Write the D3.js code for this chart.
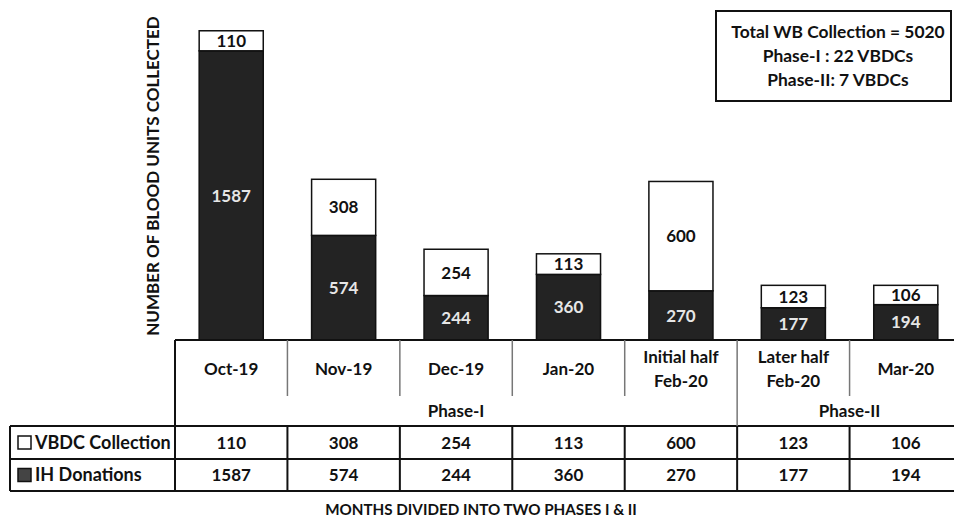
<!DOCTYPE html>
<html>
<head>
<meta charset="utf-8">
<script src="https://cdn.jsdelivr.net/npm/d3@7"></script>
<style>
  html, body { margin: 0; padding: 0; background: #fff; }
  svg { display: block; font-family: Lato, "Open Sans", sans-serif; font-weight: bold; }
</style>
</head>
<body>
<svg id="chart" width="954" height="524"></svg>
<script>
// data
const months = [["Oct-19"], ["Nov-19"], ["Dec-19"], ["Jan-20"],
  ["Initial half", "Feb-20"], ["Later half", "Feb-20"], ["Mar-20"]];
const vbdc = [110, 308, 254, 113, 600, 123, 106];
const ih = [1587, 574, 244, 360, 270, 177, 194];
const phaseNames = ["Phase-I", "Phase-II"];
const phaseOfMonth = [0, 0, 0, 0, 0, 1, 1];
const seriesNames = ["VBDC Collection", "IH Donations"];
const infoLines = ["Total WB Collection = 5020", "Phase-I : 22 VBDCs", "Phase-II: 7 VBDCs"];
const yTitle = "NUMBER OF BLOOD UNITS COLLECTED";
const xTitle = "MONTHS DIVIDED INTO TWO PHASES I & II";

const dark = "#232323";
const svg = d3.select("#chart");

const keys = months.map((m, i) => i);
const rows = keys.map(i => ({ i, ih: ih[i], vbdc: vbdc[i] }));

// columns of the table and the bars that sit on them
const tableLeft = 175, tableRight = 962, labelLeft = 10;
const cell = d3.scaleBand().domain(keys).range([tableLeft, tableRight]);
const bar = d3.scaleBand().domain(keys).range([tableLeft, tableRight])
  .paddingInner(0.43).paddingOuter(0.215);

const base = 340;
const y = d3.scaleLinear().domain([0, 1800]).range([base, 12]);

const stack = d3.stack().keys(["ih", "vbdc"]);
const layers = stack(rows);

const gBars = svg.append("g");
layers.forEach(layer => {
  const isIh = layer.key === "ih";
  const g = gBars.append("g");
  g.selectAll("rect")
    .data(layer)
    .join("rect")
    .attr("x", d => bar(d.data.i))
    .attr("width", bar.bandwidth())
    .attr("y", d => y(d[1]))
    .attr("height", d => y(d[0]) - y(d[1]))
    .attr("fill", isIh ? dark : "#fff")
    .attr("stroke", "#111")
    .attr("stroke-width", 1.5);
  g.selectAll("text")
    .data(layer)
    .join("text")
    .attr("x", d => bar(d.data.i) + bar.bandwidth() / 2)
    .attr("y", d => (y(d[0]) + y(d[1])) / 2)
    .attr("dy", "0.36em")
    .attr("text-anchor", "middle")
    .attr("font-size", 17)
    .attr("fill", isIh ? "#e6e6e6" : "#111")
    .text(d => d.data[layer.key]);
});

// y axis title
svg.append("text")
  .attr("transform", `translate(159,${(base + 12) / 2}) rotate(-90)`)
  .attr("text-anchor", "middle")
  .attr("font-size", 17)
  .attr("fill", "#111")
  .text(yTitle);

// info box
const box = svg.append("g");
box.append("rect")
  .attr("x", 716).attr("y", 11).attr("width", 235).attr("height", 90)
  .attr("fill", "#fff").attr("stroke", "#111").attr("stroke-width", 2);
box.selectAll("text")
  .data(infoLines)
  .join("text")
  .attr("x", 838)
  .attr("y", (d, i) => 32 + i * 24)
  .attr("dy", "0.36em")
  .attr("text-anchor", "middle")
  .attr("font-size", 17.4)
  .attr("fill", "#111")
  .text(d => d);

// data table
const hdrBottom = 396, phaseBottom = 426, row1Bottom = 459, row2Bottom = 491;
const tbl = svg.append("g").attr("fill", "none");
const line = (x1, y1, x2, y2, color, w) => tbl.append("line")
  .attr("x1", x1).attr("y1", y1).attr("x2", x2).attr("y2", y2)
  .attr("stroke", color).attr("stroke-width", w);

line(tableLeft, base, tableRight, base, "#111", 2);
line(tableLeft, base, tableLeft, row2Bottom, "#111", 2);
line(labelLeft, phaseBottom, tableRight, phaseBottom, "#111", 2);
line(labelLeft, row1Bottom, tableRight, row1Bottom, "#111", 2);
line(labelLeft, row2Bottom, tableRight, row2Bottom, "#111", 2);
line(labelLeft, phaseBottom, labelLeft, row2Bottom, "#111", 2);

keys.slice(1).forEach(i => {
  const x = cell(i);
  const phaseEdge = phaseOfMonth[i] !== phaseOfMonth[i - 1];
  line(x, base, x, phaseEdge ? phaseBottom : hdrBottom, "#777", 1.5);
  line(x, phaseBottom, x, row2Bottom, "#111", 2);
});

// month labels
const mt = svg.append("g").attr("text-anchor", "middle").attr("font-size", 17).attr("fill", "#111");
months.forEach((lines, i) => {
  const cx = cell(i) + cell.bandwidth() / 2;
  const mid = 369;
  lines.forEach((ln, k) => {
    mt.append("text")
      .attr("x", cx)
      .attr("y", mid + (k - (lines.length - 1) / 2) * 24)
      .attr("dy", "0.36em")
      .text(ln);
  });
});

// phase labels
phaseNames.forEach((name, p) => {
  const idx = keys.filter(i => phaseOfMonth[i] === p);
  const x0 = cell(idx[0]);
  const x1 = cell(idx[idx.length - 1]) + cell.bandwidth();
  mt.append("text")
    .attr("x", (x0 + x1) / 2)
    .attr("y", 411)
    .attr("dy", "0.36em")
    .text(name);
});

// value rows
const tableSeries = [vbdc, ih];
const rowMid = [(phaseBottom + row1Bottom) / 2, (row1Bottom + row2Bottom) / 2];
tableSeries.forEach((vals, r) => {
  mt.selectAll(null)
    .data(vals)
    .join("text")
    .attr("x", (d, i) => cell(i) + cell.bandwidth() / 2)
    .attr("y", rowMid[r])
    .attr("dy", "0.36em")
    .text(d => d);
  svg.append("rect")
    .attr("x", 18).attr("y", rowMid[r] - 6.5)
    .attr("width", 13).attr("height", 13)
    .attr("fill", r === 0 ? "#fff" : "#444")
    .attr("stroke", "#111").attr("stroke-width", 1.5);
  svg.append("text")
    .attr("x", 35)
    .attr("y", rowMid[r])
    .attr("dy", "0.36em")
    .attr("font-size", 18)
    .attr("fill", "#111")
    .text(seriesNames[r]);
});

// x title
svg.append("text")
  .attr("x", 481).attr("y", 510)
  .attr("dy", "0.36em")
  .attr("text-anchor", "middle")
  .attr("font-size", 15.2)
  .attr("fill", "#111")
  .text(xTitle);
</script>
</body>
</html>
